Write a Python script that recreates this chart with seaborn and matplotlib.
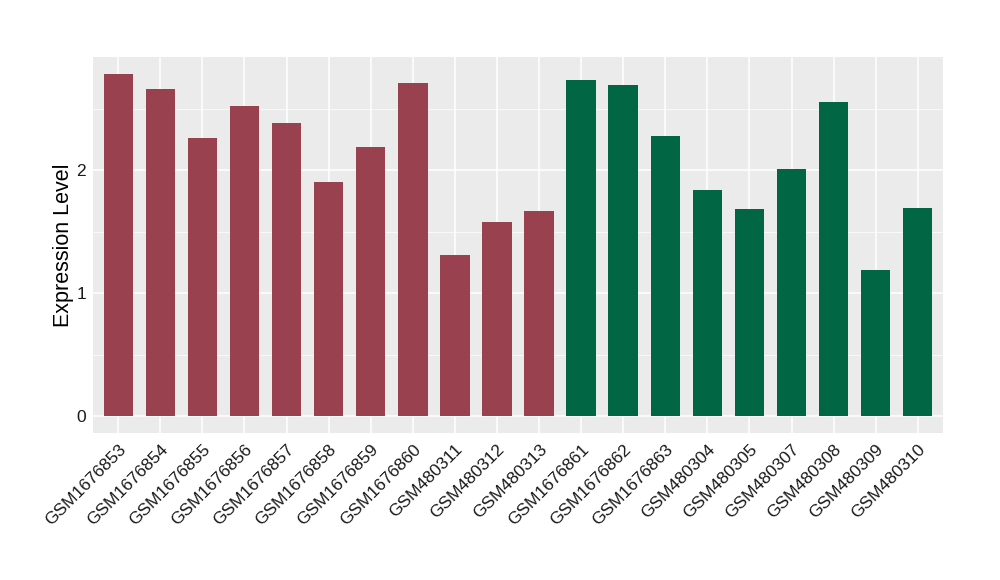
import numpy as np
import pandas as pd
import matplotlib
matplotlib.use('Agg')
import matplotlib.pyplot as plt
import seaborn as sns

samples = ['GSM1676853', 'GSM1676854', 'GSM1676855', 'GSM1676856', 'GSM1676857',
           'GSM1676858', 'GSM1676859', 'GSM1676860', 'GSM480311', 'GSM480312',
           'GSM480313', 'GSM1676861', 'GSM1676862', 'GSM1676863', 'GSM480304',
           'GSM480305', 'GSM480307', 'GSM480308', 'GSM480309', 'GSM480310']
expression = [2.78, 2.66, 2.26, 2.52, 2.38, 1.90, 2.19, 2.71, 1.31, 1.58,
              1.67, 2.73, 2.69, 2.28, 1.84, 1.68, 2.01, 2.55, 1.19, 1.69]
groups = ['A'] * 11 + ['B'] * 9
group_colors = {'A': '#9A4150', 'B': '#006644'}

df = pd.DataFrame({'sample': samples, 'expr': expression, 'group': groups})

sns.set_theme(style='darkgrid', rc={'axes.facecolor': '#EBEBEB',
                                    'grid.color': 'white'})
plt.rcParams['font.family'] = ['Liberation Sans', 'DejaVu Sans']

fig = plt.figure(figsize=(10, 5.8), dpi=100)
ax = fig.add_axes([0.093, 0.253, 0.85, 0.649])
sns.barplot(data=df, x='sample', y='expr', hue='group', palette=group_colors,
            width=0.7, dodge=False, legend=False, saturation=1, linewidth=0,
            ax=ax, zorder=3)

ax.set_xlim(-0.6, len(samples) - 0.4)
ax.set_ylim(-0.139, 2.92)
ax.set_yticks([0, 1, 2])
ax.set_yticks([0.5, 1.5, 2.5], minor=True)
ax.grid(True, which='major', color='white', linewidth=1.1, zorder=0)
ax.grid(True, which='minor', axis='y', color='white', linewidth=0.5, zorder=0)
ax.set_axisbelow(True)
for s in ax.spines.values():
    s.set_visible(False)

ax.tick_params(axis='both', which='major', length=3, color='#333333',
               labelsize=12.5, labelcolor='#1a1a1a', pad=2)
ax.tick_params(axis='x', which='major', pad=3)
ax.tick_params(axis='y', which='minor', length=0)
plt.setp(ax.get_xticklabels(), rotation=45, ha='right', rotation_mode='anchor')
ax.set_xlabel('')
ax.set_ylabel('Expression Level', fontsize=15.5, color='black', labelpad=2)

plt.savefig('out.png', dpi=100)
